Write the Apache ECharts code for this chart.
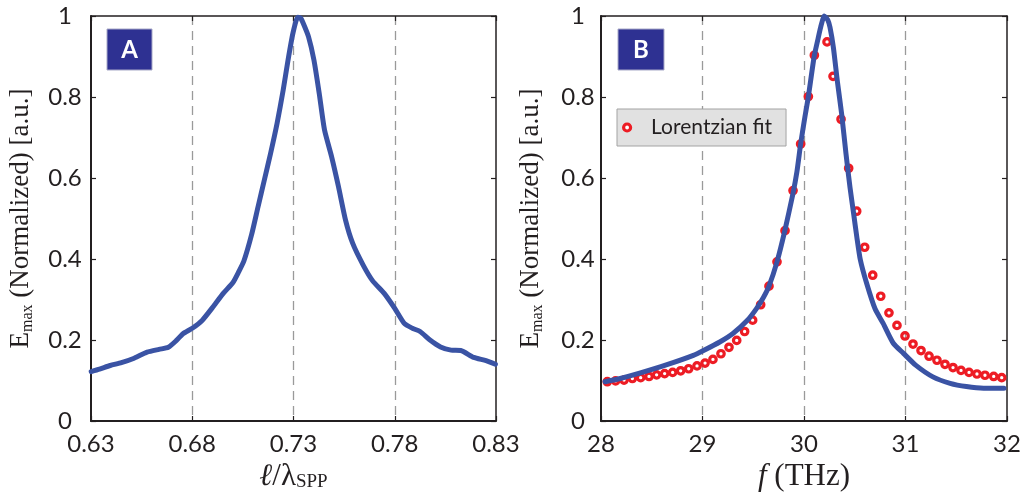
<!DOCTYPE html>
<html><head><meta charset="utf-8">
<script src="https://cdn.jsdelivr.net/npm/echarts@6/dist/echarts.min.js"></script>
<style>html,body{margin:0;padding:0;background:#fff}#c{width:1026px;height:502px}</style>
</head><body><div id="c"></div>
<script>
// ---- Panel A: E_max vs l/lambda_SPP ----
const ratioA = [0.6301,0.6342,0.6395,0.6450,0.6513,0.6577,0.6636,0.6682,0.6722,0.6753,0.6800,0.6850,0.6906,0.6953,0.7001,0.7029,0.7055,0.7093,0.7125,0.7156,0.7187,0.7219,0.7249,0.7273,0.7297,0.7321,0.7335,0.7348,0.7374,0.7401,0.7427,0.7453,0.7488,0.7522,0.7557,0.7592,0.7644,0.7691,0.7748,0.7800,0.7847,0.7887,0.7925,0.7974,0.8026,0.8078,0.8126,0.8190,0.8251,0.8297];
const emaxA  = [0.122,0.128,0.137,0.144,0.155,0.170,0.177,0.182,0.199,0.215,0.229,0.249,0.284,0.315,0.342,0.368,0.395,0.460,0.529,0.595,0.661,0.735,0.817,0.891,0.957,0.997,0.995,0.982,0.949,0.891,0.809,0.719,0.653,0.579,0.496,0.439,0.385,0.346,0.315,0.278,0.241,0.229,0.221,0.200,0.183,0.175,0.174,0.157,0.149,0.140];
// ---- Panel B: simulation vs frequency ----
const freqSim = [28.04,28.19,28.38,28.65,28.91,29.01,29.17,29.30,29.44,29.53,29.60,29.655,29.734,29.813,29.89,29.93,29.967,30.005,30.043,30.10,30.135,30.165,30.20,30.235,30.256,30.289,30.328,30.371,30.414,30.453,30.49,30.52,30.555,30.617,30.70,30.78,30.88,30.98,31.10,31.27,31.44,31.60,31.77,31.97];
const emaxSim = [0.097,0.105,0.118,0.139,0.162,0.174,0.195,0.216,0.248,0.277,0.305,0.333,0.393,0.472,0.56,0.615,0.684,0.745,0.801,0.90,0.94,0.973,1.0,0.99,0.972,0.923,0.840,0.758,0.659,0.577,0.51,0.455,0.398,0.340,0.277,0.241,0.192,0.167,0.138,0.109,0.093,0.085,0.081,0.081];
// ---- Panel B: Lorentzian fit ----
const freqFit = [28.062,28.144,28.227,28.309,28.391,28.473,28.548,28.627,28.706,28.785,28.864,28.946,29.025,29.103,29.182,29.261,29.337,29.415,29.494,29.573,29.655,29.734,29.813,29.892,29.967,30.043,30.102,30.227,30.286,30.365,30.440,30.519,30.598,30.677,30.756,30.837,30.916,30.995,31.074,31.153,31.232,31.310,31.389,31.468,31.547,31.626,31.704,31.783,31.869,31.948];
const emaxFit = [0.097,0.099,0.101,0.105,0.107,0.110,0.114,0.117,0.120,0.124,0.129,0.136,0.143,0.152,0.166,0.182,0.199,0.221,0.249,0.287,0.333,0.393,0.470,0.569,0.684,0.801,0.903,0.936,0.851,0.745,0.624,0.518,0.429,0.360,0.308,0.267,0.236,0.210,0.190,0.174,0.160,0.150,0.140,0.132,0.125,0.120,0.116,0.113,0.110,0.107];
// ---- axes / labels ----
const xRangeA = [0.63, 0.83], xStepA = 0.05;
const xRangeB = [28, 32], xStepB = 1;
const yRange = [0, 1], yStep = 0.2;
const panelLabels = ['A', 'B'];
const legendName = 'Lorentzian fit';

const INK = '#231f20', BLUE = '#3a53a4', RED = '#ed1c24';
const zip = (a, b) => a.map((v, i) => [v, b[i]]);

const serifRich = {
  n: {fontFamily: 'Liberation Serif', fontSize: 31, color: INK},
  i: {fontFamily: 'Liberation Serif', fontStyle: 'italic', fontSize: 31, color: INK},
  s: {fontFamily: 'Liberation Serif', fontSize: 19, color: INK, verticalAlign: 'bottom', lineHeight: 22}
};
const yRich = {
  e: {fontFamily: 'Liberation Serif', fontSize: 27, color: INK, lineHeight: 30},
  s: {fontFamily: 'Liberation Serif', fontSize: 16, color: INK, verticalAlign: 'bottom', lineHeight: 16}
};

function xAxes(grid, range, step, fmt, name) {
  return [{
    gridIndex: grid, type: 'value', min: range[0], max: range[1], interval: step, position: 'bottom',
    axisLine: {show: true, onZero: false, lineStyle: {color: INK, width: 2}},
    axisTick: {show: true, inside: true, length: 5, lineStyle: {color: INK, width: 1.2}},
    axisLabel: {show: true, margin: 11, fontFamily: 'Lato', fontSize: 24, color: INK, formatter: fmt},
    splitLine: {show: true, showMinLine: false, showMaxLine: false, lineStyle: {color: '#9a9a9a', width: 1.3, type: [9, 6]}},
    name: name, nameLocation: 'middle', nameGap: 40, nameTextStyle: {rich: serifRich}
  }, {
    gridIndex: grid, type: 'value', min: range[0], max: range[1], interval: step, position: 'top',
    axisLine: {show: true, onZero: false, lineStyle: {color: INK, width: 1.5}},
    axisTick: {show: true, inside: true, length: 5, lineStyle: {color: INK, width: 1.2}},
    axisLabel: {show: false}, splitLine: {show: false}
  }];
}
const yFmt = v => (Math.abs(v) < 1e-9 ? '0' : Math.abs(v - 1) < 1e-9 ? '1' : v.toFixed(1));
function yAxes(grid, margin) {
  return [{
    gridIndex: grid, type: 'value', min: yRange[0], max: yRange[1], interval: yStep, position: 'left',
    axisLine: {show: true, onZero: false, lineStyle: {color: INK, width: 2}},
    axisTick: {show: true, inside: true, length: 5, lineStyle: {color: INK, width: 1.2}},
    axisLabel: {show: true, margin: margin, align: 'center', fontFamily: 'Lato', fontSize: 24, color: INK, formatter: yFmt},
    splitLine: {show: false},
    name: '{e|E}{s|max}{e| (Normalized) [a.u.]}', nameLocation: 'middle', nameRotate: 90, nameGap: 55,
    nameTextStyle: {rich: yRich}
  }, {
    gridIndex: grid, type: 'value', min: yRange[0], max: yRange[1], interval: yStep, position: 'right',
    axisLine: {show: true, onZero: false, lineStyle: {color: INK, width: 1.5}},
    axisTick: {show: true, inside: true, length: 5, lineStyle: {color: INK, width: 1.2}},
    axisLabel: {show: false}, splitLine: {show: false}
  }];
}

function labelBox(x, y, w, h, txt) {
  return {
    type: 'group', children: [
      {type: 'rect', shape: {x: x, y: y, width: w, height: h}, style: {fill: '#2e3192', stroke: '#a8a9c8', lineWidth: 1}},
      {type: 'text', x: x + w / 2, y: y + h / 2 + 1, style: {text: txt, fill: '#fff', font: 'bold 24px Lato', align: 'center', verticalAlign: 'middle'}}
    ]
  };
}

const chart = echarts.init(document.getElementById('c'), null, {renderer: 'canvas'});
chart.setOption({
  animation: false,
  backgroundColor: '#fff',
  grid: [
    {left: 91, top: 16, width: 405, height: 405, outerBoundsMode: 'none', containLabel: false},
    {left: 601, top: 16, width: 406, height: 405, outerBoundsMode: 'none', containLabel: false}
  ],
  xAxis: [
    ...xAxes(0, xRangeA, xStepA, v => v.toFixed(2), '{i|ℓ}{n|/λ}{s|SPP}'),
    ...xAxes(1, xRangeB, xStepB, v => String(Math.round(v)), '{i|f }{n|(THz)}')
  ],
  yAxis: [...yAxes(0, 26), ...yAxes(1, 23)],
  legend: {
    show: true, left: 617, top: 109, orient: 'horizontal',
    backgroundColor: '#e1e1e1', borderColor: '#a3a3a3', borderWidth: 1, borderRadius: 0,
    padding: [6, 14, 6, 5], itemWidth: 24, itemHeight: 7,
    textStyle: {fontFamily: 'Lato', fontSize: 21, color: INK, padding: [0, 0, 0, 7], lineHeight: 25},
    data: [{name: legendName, icon: 'circle', itemStyle: {color: '#fff', borderColor: RED, borderWidth: 3.2}}],
    selectedMode: false
  },
  graphic: [labelBox(107, 29, 45, 41, panelLabels[0]), labelBox(618, 29, 46, 41, panelLabels[1])],
  series: [
    {type: 'line', xAxisIndex: 0, yAxisIndex: 0, data: zip(ratioA, emaxA), showSymbol: false, smooth: 0.2, clip: false,
     lineStyle: {color: BLUE, width: 5, cap: 'round', join: 'round'}, emphasis: {disabled: true}},
    {type: 'line', xAxisIndex: 2, yAxisIndex: 2, data: zip(freqSim, emaxSim), showSymbol: false, smooth: 0.2, clip: false,
     lineStyle: {color: BLUE, width: 5, cap: 'round', join: 'round'}, emphasis: {disabled: true}},
    {type: 'scatter', name: legendName, xAxisIndex: 2, yAxisIndex: 2, data: zip(freqFit, emaxFit), symbol: 'circle', symbolSize: 6.5,
     itemStyle: {color: 'rgba(255,255,255,0)', borderColor: RED, borderWidth: 3.2, opacity: 1}, emphasis: {disabled: true}, clip: false}
  ]
});
</script></body></html>
